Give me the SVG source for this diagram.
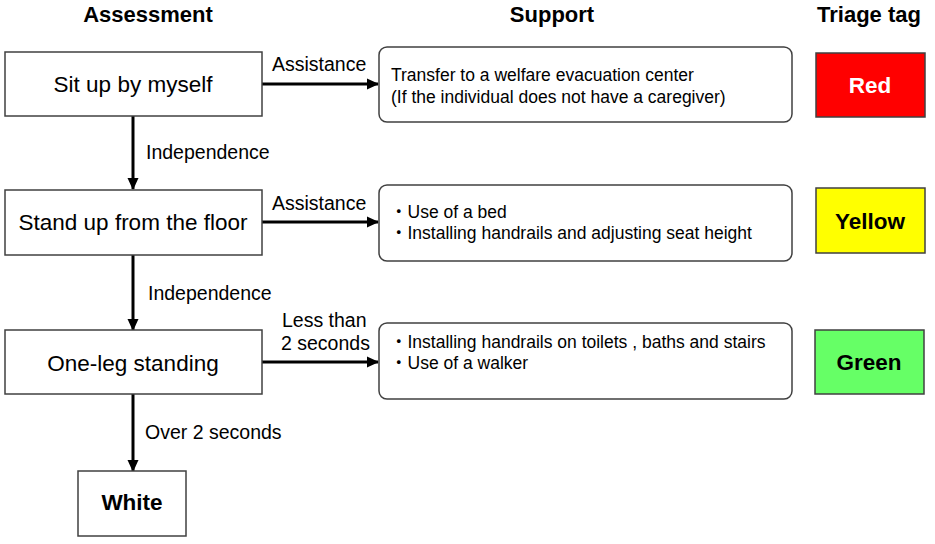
<svg xmlns="http://www.w3.org/2000/svg" width="935" height="544" viewBox="0 0 935 544">
<defs>
<marker id="ah" markerUnits="userSpaceOnUse" markerWidth="12" markerHeight="12" viewBox="0 0 12 12" refX="11" refY="6" orient="auto">
<path d="M0,0.5 L12,6 L0,11.5 Z" fill="#000"/>
</marker>
<style>
.t{font-family:"Liberation Sans",Arial,"Noto Sans CJK JP",sans-serif;fill:#000}
.h{font-size:22px;font-weight:bold}
.n{font-size:22.5px}
.l{font-size:19.5px}
.s{font-size:17.5px}
.b{font-size:22.5px;font-weight:bold}
.box{fill:#fff;stroke:#404040;stroke-width:1.5}
.sup{fill:#fff;stroke:#404040;stroke-width:1.5}
.tag{stroke:#404040;stroke-width:1.5}
.c{stroke:#000;stroke-width:3;fill:none}
</style>
</defs>
<rect width="935" height="544" fill="#fff"/>
<g id="headers">
<text class="t h" x="148" y="22" text-anchor="middle">Assessment</text>
<text class="t h" x="552" y="22" text-anchor="middle">Support</text>
<text class="t h" x="869" y="22" text-anchor="middle">Triage tag</text>
</g>
<g id="connectors">
<line class="c" x1="262" y1="84" x2="378" y2="84" marker-end="url(#ah)"/>
<line class="c" x1="262" y1="222" x2="378" y2="222" marker-end="url(#ah)"/>
<line class="c" x1="262" y1="362" x2="378" y2="362" marker-end="url(#ah)"/>
<line class="c" x1="133" y1="116" x2="133" y2="189" marker-end="url(#ah)"/>
<line class="c" x1="133" y1="255" x2="133" y2="330" marker-end="url(#ah)"/>
<line class="c" x1="133" y1="394" x2="133" y2="471" marker-end="url(#ah)"/>
<text class="t l" x="272" y="71">Assistance</text>
<text class="t l" x="272" y="210">Assistance</text>
<text class="t l" x="282" y="327">Less than</text>
<text class="t l" x="281" y="350">2 seconds</text>
<text class="t l" x="146" y="159">Independence</text>
<text class="t l" x="148" y="300">Independence</text>
<text class="t l" x="145" y="439">Over 2 seconds</text>
</g>
<g id="node-sit">
<rect class="box" x="5" y="52" width="257" height="64"/>
<text class="t n" x="133" y="92" text-anchor="middle">Sit up by myself</text>
</g>
<g id="node-stand">
<rect class="box" x="5" y="190" width="257" height="65"/>
<text class="t n" x="133" y="230" text-anchor="middle">Stand up from the floor</text>
</g>
<g id="node-oneleg">
<rect class="box" x="5" y="330" width="257" height="64"/>
<text class="t n" x="133" y="371" text-anchor="middle">One-leg standing</text>
</g>
<g id="node-white">
<rect class="box" x="78" y="471" width="108" height="65"/>
<text class="t b" x="132" y="510" text-anchor="middle">White</text>
</g>
<g id="support-1">
<rect class="sup" x="379" y="47" width="413" height="75" rx="8"/>
<text class="t s" x="391" y="81">Transfer to a welfare evacuation center</text>
<text class="t s" x="391" y="103">(If the individual does not have a caregiver)</text>
</g>
<g id="support-2">
<rect class="sup" x="379" y="185" width="413" height="76" rx="8"/>
<text class="t s" x="390" y="218">・Use of a bed</text>
<text class="t s" x="390" y="239">・Installing handrails and adjusting seat height</text>
</g>
<g id="support-3">
<rect class="sup" x="379" y="323" width="413" height="76" rx="8"/>
<text class="t s" x="390" y="348">・Installing handrails on toilets , baths and stairs</text>
<text class="t s" x="390" y="369">・Use of a walker</text>
</g>
<g id="tag-red">
<rect class="tag" x="816" y="53" width="109" height="64" fill="#ff0000"/>
<text class="t b" x="870" y="93" text-anchor="middle" style="fill:#fff">Red</text>
</g>
<g id="tag-yellow">
<rect class="tag" x="816" y="188" width="109" height="65" fill="#ffff00"/>
<text class="t b" x="870" y="229" text-anchor="middle">Yellow</text>
</g>
<g id="tag-green">
<rect class="tag" x="815" y="330" width="109" height="64" fill="#66ff66"/>
<text class="t b" x="869" y="370" text-anchor="middle">Green</text>
</g>
</svg>
